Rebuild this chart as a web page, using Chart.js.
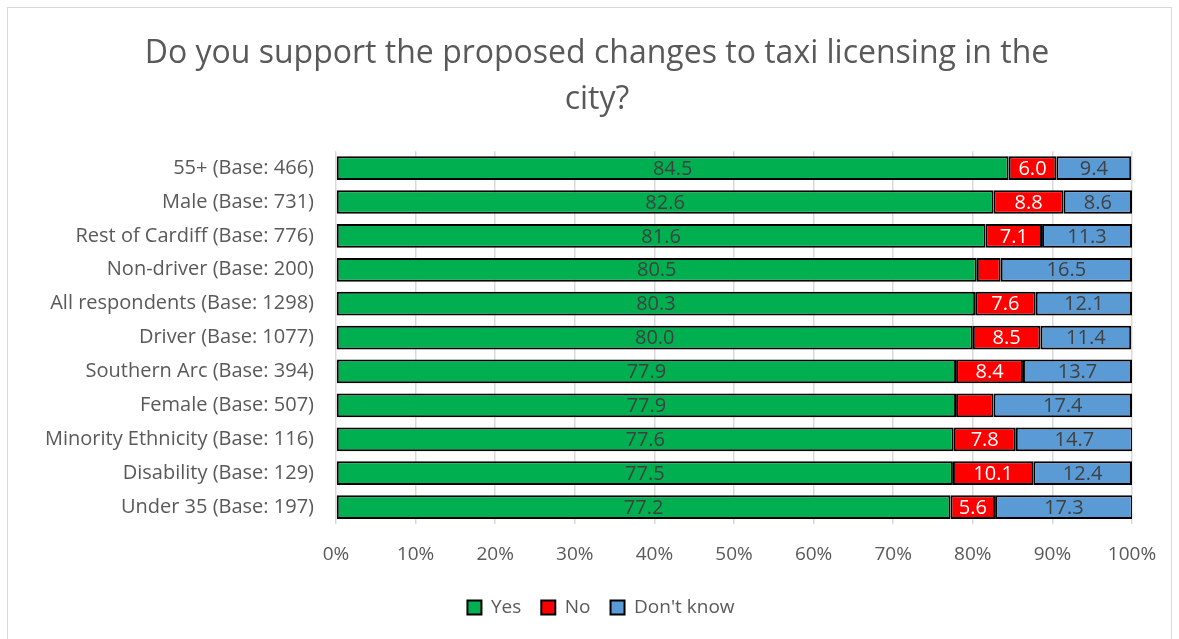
<!DOCTYPE html>
<html>
<head>
<meta charset="utf-8">
<script src="https://cdn.jsdelivr.net/npm/chart.js@4.4.0/dist/chart.umd.min.js"></script>
<style>
  html, body { margin: 0; padding: 0; background: #fff; }
  #frame { position: absolute; left: 7px; top: 7px; width: 1163px; height: 700px; border: 1px solid #d9d9d9; }
  #wrap { position: absolute; left: 0; top: 0; width: 1179px; height: 639px; }
</style>
</head>
<body>
<div id="frame"></div>
<div id="wrap"><canvas id="taxiChart"></canvas></div>
<script>
var categories = [
    '55+ (Base: 466)',
    'Male (Base: 731)',
    'Rest of Cardiff (Base: 776)',
    'Non-driver (Base: 200)',
    'All respondents (Base: 1298)',
    'Driver (Base: 1077)',
    'Southern Arc (Base: 394)',
    'Female (Base: 507)',
    'Minority Ethnicity (Base: 116)',
    'Disability (Base: 129)',
    'Under 35 (Base: 197)'
];
var yesValues = [84.5, 82.6, 81.6, 80.5, 80.3, 80.0, 77.9, 77.9, 77.6, 77.5, 77.2];
var noValues = [6.0, 8.8, 7.1, 3.0, 7.6, 8.5, 8.4, 4.7, 7.8, 10.1, 5.6];
var dontKnowValues = [9.4, 8.6, 11.3, 16.5, 12.1, 11.4, 13.7, 17.4, 14.7, 12.4, 17.3];
var xTicks = [0, 10, 20, 30, 40, 50, 60, 70, 80, 90, 100];

var FONT = "'Open Sans', 'Noto Sans', sans-serif";
var GREY = '#595959';

// labels inside the bars, small slices stay empty like the original
var barLabels = {
    id: 'barLabels',
    afterDatasetsDraw: function (chart) {
        var ctx = chart.ctx;
        ctx.save();
        ctx.font = '20px ' + FONT;
        ctx.textAlign = 'center';
        ctx.textBaseline = 'middle';
        chart.data.datasets.forEach(function (ds, i) {
            var meta = chart.getDatasetMeta(i);
            meta.data.forEach(function (bar, j) {
                var v = ds.data[j];
                if (v < 5) return;
                ctx.fillStyle = ds.labelColor;
                ctx.fillText(v.toFixed(1), (bar.x + bar.base) / 2, bar.y + 1);
            });
        });
        ctx.restore();
    }
};

// title and legend sit centred on the whole frame, not on the padded box
var shiftBlocks = {
    id: 'shiftBlocks',
    afterLayout: function (chart) {
        if (chart.titleBlock) chart.titleBlock.left += 52;
        if (chart.legend) chart.legend.left += 60;
    }
};

document.addEventListener('DOMContentLoaded', function () {
    var ctx = document.getElementById('taxiChart').getContext('2d');
    new Chart(ctx, {
        type: 'bar',
        data: {
            labels: categories,
            datasets: [{
                label: 'Yes',
                data: yesValues,
                backgroundColor: '#00b050',
                labelColor: '#404040'
            }, {
                label: 'No',
                data: noValues,
                backgroundColor: '#ff0000',
                labelColor: '#ffffff'
            }, {
                label: "Don't know",
                data: dontKnowValues,
                backgroundColor: '#5b9bd5',
                labelColor: '#404040'
            }].map(function (d) {
                d.borderColor = '#000000';
                d.borderWidth = 2;
                d.borderSkipped = false;
                d.categoryPercentage = 0.7;
                d.barPercentage = 1.0;
                return d;
            })
        },
        options: {
            indexAxis: 'y',
            responsive: true,
            maintainAspectRatio: false,
            animation: false,
            layout: { padding: { left: 10, right: 47, top: 10, bottom: 12 } },
            scales: {
                x: {
                    stacked: true,
                    min: 0,
                    max: 100,
                    afterBuildTicks: function (scale) {
                        scale.ticks = xTicks.map(function (v) { return { value: v }; });
                    },
                    afterFit: function (scale) { scale.height = 54; },
                    ticks: {
                        color: GREY,
                        font: { family: FONT, size: 19 },
                        padding: 19,
                        callback: function (v) { return v + '%'; }
                    },
                    grid: { color: '#d9d9d9', lineWidth: 1.5, drawTicks: false },
                    border: { display: false }
                },
                y: {
                    stacked: true,
                    afterFit: function (scale) { scale.width = 326; },
                    ticks: {
                        color: GREY,
                        font: { family: FONT, size: 20 },
                        padding: 22
                    },
                    grid: { display: false, drawTicks: false },
                    border: { display: false }
                }
            },
            plugins: {
                title: {
                    display: true,
                    text: ['Do you support the proposed changes to taxi licensing in the', 'city?'],
                    color: GREY,
                    font: { family: FONT, size: 32, weight: 'normal', lineHeight: 1.44 },
                    padding: { top: 21, bottom: 28 }
                },
                legend: {
                    position: 'bottom',
                    labels: {
                        color: GREY,
                        font: { family: FONT, size: 19 },
                        boxWidth: 14,
                        boxHeight: 14,
                        padding: 20
                    }
                },
                tooltip: { enabled: false }
            }
        },
        plugins: [barLabels, shiftBlocks]
    });
});
</script>
</body>
</html>
